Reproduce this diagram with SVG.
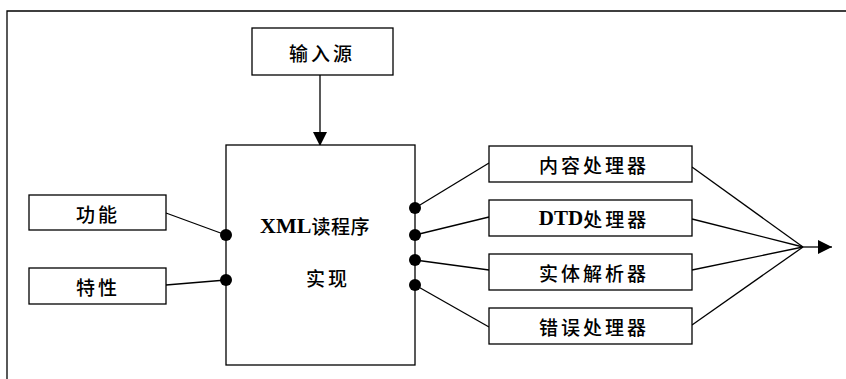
<svg xmlns="http://www.w3.org/2000/svg" width="846" height="379" viewBox="0 0 846 379">
  <defs>
    <style>
      .box { fill: #fff; stroke: #000; stroke-width: 1.3; }
      .lbl { font-family: "Noto Sans CJK SC", "Noto Sans", sans-serif; font-size: 19px; font-weight: 500; letter-spacing: 3px; fill: #000; text-anchor: middle; dominant-baseline: central; }
      .lat { font-family: "Liberation Serif", "Noto Sans CJK SC", serif; font-weight: bold; letter-spacing: 0; }
      .wire { fill: none; stroke: #000; stroke-width: 1.3; }
      .dot { fill: #000; }
    </style>
    <marker id="arrow" viewBox="0 0 10 10" refX="10" refY="5" markerWidth="20" markerHeight="14" markerUnits="userSpaceOnUse" orient="auto">
      <path d="M0,0 L10,5 L0,10 z" fill="#000"/>
    </marker>
  </defs>

  <rect width="846" height="379" fill="#fff"/>
  <!-- outer frame -->
  <path d="M7,390 L7,11 L850,11" fill="none" stroke="#000" stroke-width="1.3"/>

  <g id="connectors">
    <line class="wire" x1="320" y1="75" x2="320" y2="146" marker-end="url(#arrow)"/>
    <line class="wire" x1="166" y1="213" x2="226" y2="235"/>
    <line class="wire" x1="166" y1="285" x2="226" y2="280"/>
    <line class="wire" x1="415" y1="208" x2="489" y2="163"/>
    <line class="wire" x1="415" y1="235" x2="489" y2="217"/>
    <line class="wire" x1="415" y1="260" x2="489" y2="270"/>
    <line class="wire" x1="415" y1="285" x2="489" y2="327"/>
    <line class="wire" x1="692" y1="167" x2="803" y2="247"/>
    <line class="wire" x1="692" y1="219" x2="803" y2="247"/>
    <line class="wire" x1="692" y1="270" x2="803" y2="247"/>
    <line class="wire" x1="692" y1="325" x2="803" y2="247"/>
    <line class="wire" x1="803" y1="247" x2="832" y2="247" marker-end="url(#arrow)"/>
  </g>

  <g id="input-source">
    <rect class="box" x="252" y="28" width="141" height="47"/>
    <text class="lbl" x="322" y="52">输入源</text>
  </g>

  <g id="reader">
    <rect class="box" x="226" y="145" width="189" height="220"/>
    <text class="lbl" x="315" y="225" style="letter-spacing:0.5px"><tspan class="lat" font-size="22">XML</tspan>读程序</text>
    <text class="lbl" x="328" y="277">实现</text>
    <circle class="dot" cx="226" cy="235" r="6"/>
    <circle class="dot" cx="226" cy="280" r="6"/>
    <circle class="dot" cx="415" cy="208" r="6"/>
    <circle class="dot" cx="415" cy="235" r="6"/>
    <circle class="dot" cx="415" cy="260" r="6"/>
    <circle class="dot" cx="415" cy="285" r="6"/>
  </g>

  <g id="features">
    <rect class="box" x="29" y="195" width="137" height="35"/>
    <text class="lbl" x="98" y="213">功能</text>
  </g>

  <g id="properties">
    <rect class="box" x="29" y="268" width="137" height="36"/>
    <text class="lbl" x="98" y="286">特性</text>
  </g>

  <g id="content-handler">
    <rect class="box" x="489" y="146" width="203" height="36"/>
    <text class="lbl" x="594" y="164">内容处理器</text>
  </g>

  <g id="dtd-handler">
    <rect class="box" x="489" y="200" width="203" height="36"/>
    <text class="lbl" x="594" y="218"><tspan class="lat" font-size="21">DTD</tspan>处理器</text>
  </g>

  <g id="entity-resolver">
    <rect class="box" x="489" y="254" width="203" height="36"/>
    <text class="lbl" x="594" y="272">实体解析器</text>
  </g>

  <g id="error-handler">
    <rect class="box" x="489" y="308" width="203" height="36"/>
    <text class="lbl" x="594" y="326">错误处理器</text>
  </g>
</svg>
